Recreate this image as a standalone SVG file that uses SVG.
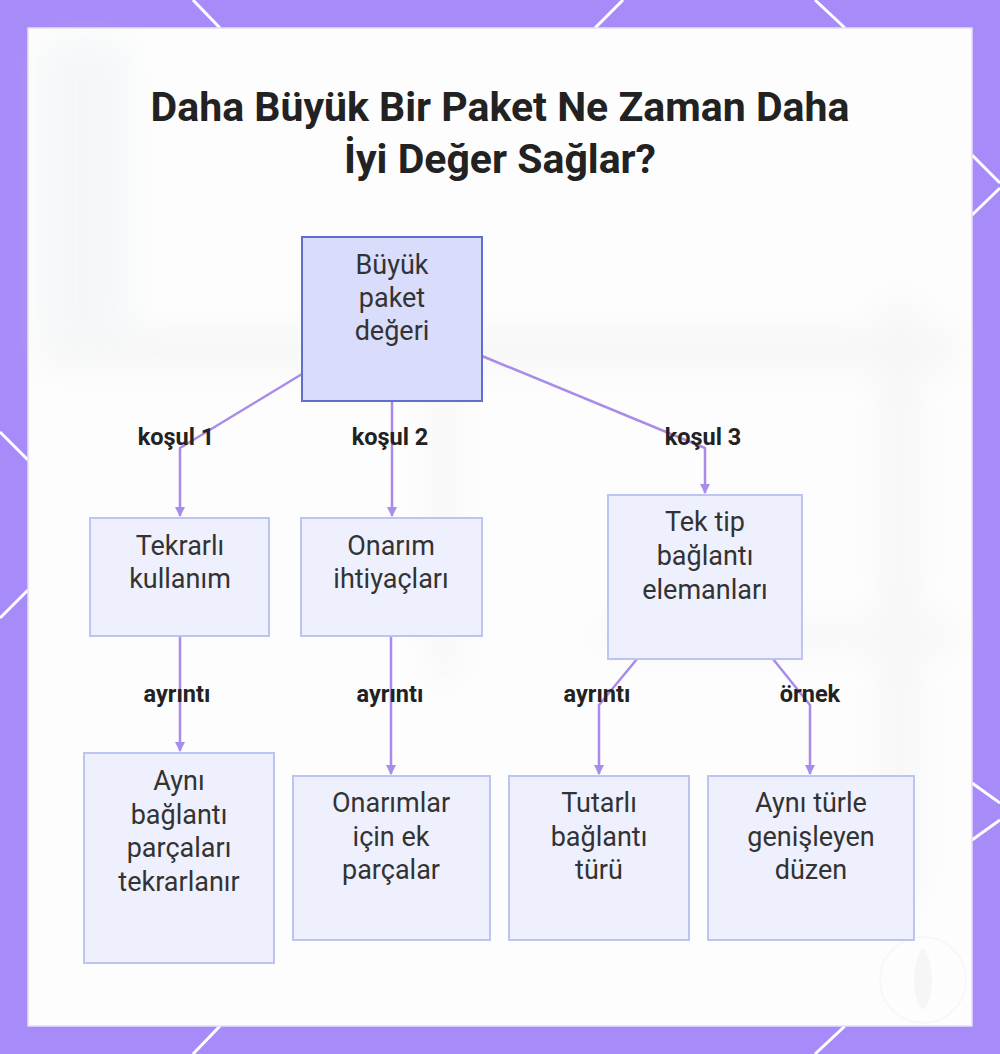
<svg xmlns="http://www.w3.org/2000/svg" width="1000" height="1054" viewBox="0 0 1000 1054">
  <defs>
    <style>
      .title { font-family: Roboto, "Liberation Sans", sans-serif; font-weight: 700; font-size: 41px; fill: #222222; text-anchor: middle; }
      .ntext { font-family: Roboto, "Liberation Sans", sans-serif; font-size: 27px; fill: #333333; text-anchor: middle; dominant-baseline: central; }
      .lbl { font-family: Roboto, "Liberation Sans", sans-serif; font-weight: 700; font-size: 23.5px; fill: #222222; text-anchor: middle; dominant-baseline: central; }
      .root { fill: #D9DDFB; stroke: #5F6FCB; stroke-width: 2; }
      .box { fill: #EEF0FD; stroke: #BCC4F4; stroke-width: 2; }
      .edge { fill: none; stroke: #A98BEA; stroke-width: 2.5; stroke-linejoin: round; }
      .deco { stroke: #FFFFFF; stroke-width: 3; }
    </style>
    <marker id="arr" viewBox="0 0 10 10" refX="9" refY="5" markerWidth="4" markerHeight="4" orient="auto">
      <path d="M0,0 L10,5 L0,10 z" fill="#A98BEA"/>
    </marker>
    <filter id="blur" x="-20%" y="-20%" width="140%" height="140%">
      <feGaussianBlur stdDeviation="16"/>
    </filter>
  </defs>

  <!-- frame -->
  <rect x="0" y="0" width="1000" height="1054" fill="#A78BF8"/>
  <g class="deco">
    <line x1="193" y1="0" x2="220" y2="28"/>
    <line x1="623" y1="0" x2="595" y2="28"/>
    <line x1="815" y1="0" x2="845" y2="28"/>
    <line x1="972" y1="155" x2="1000" y2="183"/>
    <line x1="1000" y1="188" x2="972" y2="215"/>
    <line x1="972" y1="783" x2="1000" y2="803"/>
    <line x1="1000" y1="820" x2="972" y2="840"/>
    <line x1="0" y1="432" x2="28" y2="460"/>
    <line x1="28" y1="590" x2="0" y2="618"/>
    <line x1="220" y1="1026" x2="193" y2="1054"/>
    <line x1="845" y1="1026" x2="815" y2="1054"/>
  </g>
  <rect x="28" y="28" width="944" height="998" fill="#FDFDFD" stroke="#E6DEFC" stroke-width="1.5"/>

  <!-- faint blurred background -->
  <g filter="url(#blur)" opacity="0.25">
    <rect x="40" y="40" width="90" height="300" fill="#DCE6EC"/>
    <rect x="40" y="330" width="920" height="40" fill="#E2E4E6"/>
    <rect x="430" y="380" width="30" height="300" fill="#E6E6E6"/>
    <rect x="880" y="300" width="40" height="600" fill="#E4E4E4"/>
    <rect x="600" y="620" width="360" height="30" fill="#E6E6E6"/>
  </g>

  <!-- watermark -->
  <g opacity="0.5">
    <circle cx="923" cy="980" r="43" fill="none" stroke="#F0F0F0" stroke-width="1.5"/>
    <path d="M923,948 C935,960 935,1000 923,1010 C911,1000 911,960 923,948 z" fill="#F0F0F0"/>
  </g>

  <!-- title -->
  <text class="title" x="500" y="121">Daha Büyük Bir Paket Ne Zaman Daha</text>
  <text class="title" x="500" y="173">İyi Değer Sağlar?</text>

  <!-- connectors -->
  <g id="connectors">
    <path class="edge" d="M302,374 L180,448 L180,516" marker-end="url(#arr)"/>
    <path class="edge" d="M392,401 L392,516" marker-end="url(#arr)"/>
    <path class="edge" d="M482,356 L705,448 L705,493" marker-end="url(#arr)"/>
    <path class="edge" d="M180,636 L180,751" marker-end="url(#arr)"/>
    <path class="edge" d="M391,636 L391,774" marker-end="url(#arr)"/>
    <path class="edge" d="M637,659 L599,705 L599,774" marker-end="url(#arr)"/>
    <path class="edge" d="M773,659 L810,705 L810,774" marker-end="url(#arr)"/>
    <text class="lbl" x="176" y="437">koşul 1</text>
    <text class="lbl" x="390" y="437">koşul 2</text>
    <text class="lbl" x="703" y="437">koşul 3</text>
    <text class="lbl" x="177" y="694">ayrıntı</text>
    <text class="lbl" x="390" y="694">ayrıntı</text>
    <text class="lbl" x="597" y="694">ayrıntı</text>
    <text class="lbl" x="810" y="694">örnek</text>
  </g>

  <!-- nodes -->
  <g id="n-root">
    <rect class="root" x="302" y="237" width="180" height="164"/>
    <text class="ntext" x="392" y="265">Büyük</text>
    <text class="ntext" x="392" y="298">paket</text>
    <text class="ntext" x="392" y="331">değeri</text>
  </g>
  <g id="n-tekrarli">
    <rect class="box" x="90" y="518" width="179" height="118"/>
    <text class="ntext" x="180" y="546">Tekrarlı</text>
    <text class="ntext" x="180" y="579">kullanım</text>
  </g>
  <g id="n-onarim">
    <rect class="box" x="301" y="518" width="181" height="118"/>
    <text class="ntext" x="391" y="546">Onarım</text>
    <text class="ntext" x="391" y="579">ihtiyaçları</text>
  </g>
  <g id="n-tektip">
    <rect class="box" x="608" y="495" width="194" height="164"/>
    <text class="ntext" x="705" y="522">Tek tip</text>
    <text class="ntext" x="705" y="556">bağlantı</text>
    <text class="ntext" x="705" y="590">elemanları</text>
  </g>
  <g id="n-ayni">
    <rect class="box" x="84" y="753" width="190" height="210"/>
    <text class="ntext" x="179" y="781">Aynı</text>
    <text class="ntext" x="179" y="815">bağlantı</text>
    <text class="ntext" x="179" y="848">parçaları</text>
    <text class="ntext" x="179" y="882">tekrarlanır</text>
  </g>
  <g id="n-onarimlar">
    <rect class="box" x="293" y="776" width="197" height="164"/>
    <text class="ntext" x="391" y="803">Onarımlar</text>
    <text class="ntext" x="391" y="837">için ek</text>
    <text class="ntext" x="391" y="870">parçalar</text>
  </g>
  <g id="n-tutarli">
    <rect class="box" x="509" y="776" width="180" height="164"/>
    <text class="ntext" x="599" y="803">Tutarlı</text>
    <text class="ntext" x="599" y="837">bağlantı</text>
    <text class="ntext" x="599" y="870">türü</text>
  </g>
  <g id="n-genisleyen">
    <rect class="box" x="708" y="776" width="206" height="164"/>
    <text class="ntext" x="811" y="803">Aynı türle</text>
    <text class="ntext" x="811" y="837">genişleyen</text>
    <text class="ntext" x="811" y="870">düzen</text>
  </g>
</svg>
